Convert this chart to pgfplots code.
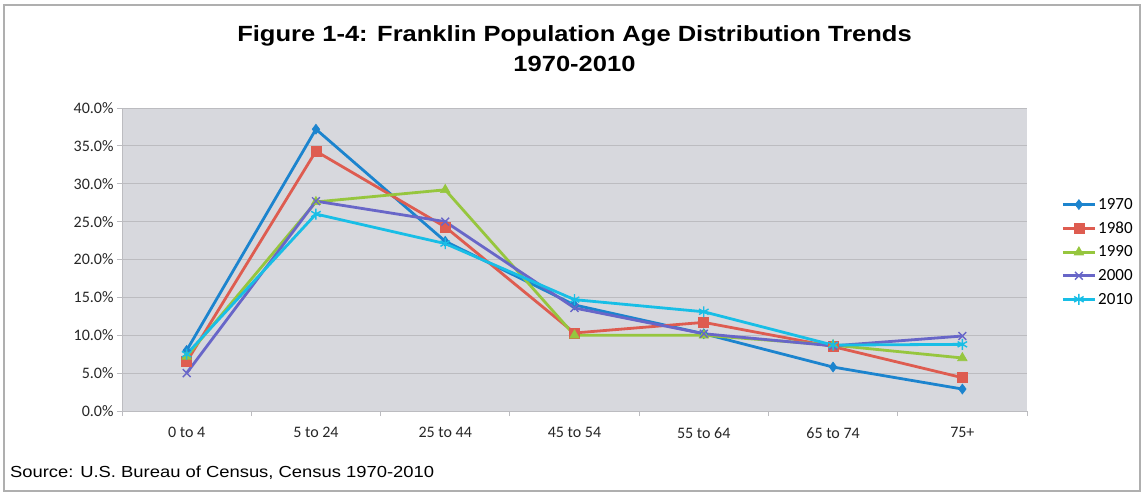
\documentclass[border=0pt]{standalone}
\usepackage{pgfplots}
\pgfplotsset{compat=1.18}
\usepackage{fontspec}
\setmainfont{Liberation Sans}
\newfontfamily\calibri{Carlito}
\definecolor{c1970}{RGB}{28,132,206}
\definecolor{c1980}{RGB}{222,92,80}
\definecolor{c1990}{RGB}{150,198,62}
\definecolor{c2000}{RGB}{104,102,200}
\definecolor{c2010}{RGB}{24,190,230}
\definecolor{plotbg}{RGB}{215,216,221}
\definecolor{gridc}{RGB}{188,188,192}
\definecolor{framec}{RGB}{175,175,175}

\pgfplotstableread{
x  y1970 y1980 y1990 y2000 y2010
0  8.0   6.5   7.2   5.0   7.5
1  37.2  34.3  27.6  27.7  26.0
2  22.4  24.3  29.2  25.0  22.1
3  14.0  10.3  10.0  13.6  14.7
4  10.2  11.7  10.0  10.2  13.1
5  5.8   8.5   8.7   8.6   8.7
6  2.9   4.4   7.0   9.9   8.8
}\agedata

\begin{document}
\begin{tikzpicture}
\useasboundingbox (0pt,0pt) rectangle (1141pt,-492pt);
\draw[framec, line width=1.2pt] (4pt,-5pt) rectangle (1140pt,-491pt);

\node[font=\bfseries\fontsize{22}{26}\selectfont, xscale=1.16] at (574.5pt,-36pt) {Figure 1-4: Franklin Population Age Distribution Trends};
\node[font=\bfseries\fontsize{22}{26}\selectfont, xscale=1.16] at (574.5pt,-64pt) {1970-2010};
\node[anchor=west, font=\fontsize{16}{19}\selectfont, xscale=1.15] at (6pt,-473pt) {Source: U.S. Bureau of Census, Census 1970-2010};

\begin{axis}[
  at={(122pt,-411pt)}, anchor=south west,
  width=905pt, height=303pt, scale only axis,
  xmin=-0.5, xmax=6.5, ymin=0, ymax=40,
  axis background/.style={fill=plotbg},
  axis x line*=bottom, axis y line*=left,
  axis line style={gridc, line width=0.8pt, -},
  xtick={0,...,6},
  xticklabels={0 to 4, 5 to 24, 25 to 44, 45 to 54, 55 to 64, 65 to 74, 75+},
  major x tick style={draw=none},
  minor xtick={-0.5,0.5,...,6.5},
  minor tick length=5pt,
  minor x tick style={gridc, line width=0.8pt},
  ytick={0,5,...,40},
  yticklabel={\pgfmathprintnumber[fixed,fixed zerofill,precision=1]{\tick}\%},
  /pgf/number format/assume math mode=true,
  ymajorgrids, grid style={gridc, line width=0.8pt},
  tick align=outside, major tick length=5pt,
  major y tick style={gridc, line width=0.8pt},
  tick label style={font=\calibri\fontsize{16}{18}\selectfont, text=black!85},
  xticklabel style={yshift=-8pt},
  yticklabel style={xshift=0pt},
  clip=false,
  every axis plot/.append style={line width=2.8pt},
  legend style={at={(1.038,0.525)}, anchor=west, draw=none, fill=none,
    font=\calibri\fontsize{17}{19}\selectfont, row sep=7pt,
    inner sep=0pt},
  legend cell align=left,
  legend image code/.code={\draw[mark repeat=2,mark phase=2,line width=2.6pt] plot coordinates {(0pt,0pt) (16pt,0pt) (32pt,0pt)};},
]
\addplot[c1970, mark=diamond*, mark size=5pt, mark options={solid,fill=c1970,line width=0.6pt}] table[x=x,y=y1970] {\agedata};
\addlegendentry{1970}
\addplot[c1980, mark=square*, mark size=5pt, mark options={solid,fill=c1980,line width=0.6pt}] table[x=x,y=y1980] {\agedata};
\addlegendentry{1980}
\addplot[c1990, mark=triangle*, mark size=5.5pt, mark options={solid,fill=c1990,line width=0.6pt}] table[x=x,y=y1990] {\agedata};
\addlegendentry{1990}
\addplot[c2000, mark=x, mark size=5.5pt, mark options={solid,line width=1.4pt}] table[x=x,y=y2000] {\agedata};
\addlegendentry{2000}
\addplot[c2010, mark=asterisk, mark size=5.5pt, mark options={solid,line width=1.4pt}] table[x=x,y=y2010] {\agedata};
\addlegendentry{2010}
\end{axis}
\end{tikzpicture}
\end{document}
